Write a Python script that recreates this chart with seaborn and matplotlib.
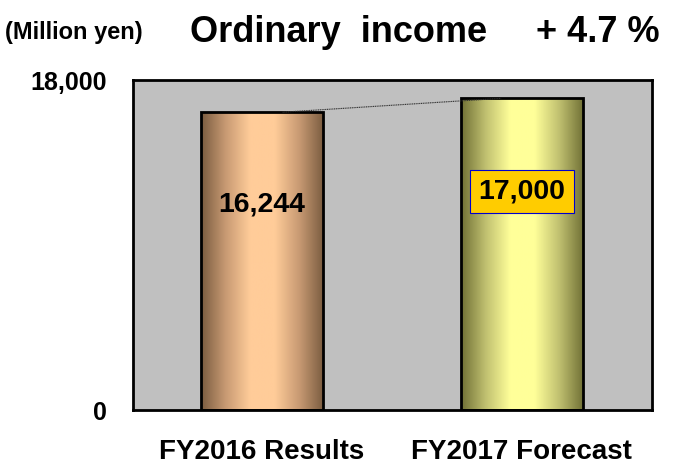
import matplotlib
matplotlib.use("Agg")
import matplotlib.pyplot as plt
import seaborn as sns
import numpy as np
from matplotlib.colors import LinearSegmentedColormap

# data
categories = ["FY2016 Results", "FY2017 Forecast"]
values = [16244, 17000]
value_labels = ["16,244", "17,000"]
growth = "+ 4.7 %"

sns.set_style("white")
plt.rcParams["font.family"] = ["Liberation Sans", "DejaVu Sans"]
plt.rcParams["font.weight"] = "bold"
plt.rcParams["text.color"] = "black"
plt.rcParams["xtick.labelcolor"] = "black"
plt.rcParams["ytick.labelcolor"] = "black"

fig = plt.figure(figsize=(6.74, 4.69), dpi=100)
ax = fig.add_axes([133 / 674, 1 - 410 / 469, 519 / 674, 330 / 469])
ax.set_facecolor("#c0c0c0")

sns.barplot(x=categories, y=values, width=0.47, color="#c0c0c0",
            edgecolor="black", linewidth=2, ax=ax, zorder=2)

ax.set_xlim(-0.495, 1.5)
ax.set_ylim(0, 18000)

# cylinder gradients
ramps = [["#7a5c40", "#c89a73", "#ffcc99", "#ffcc99", "#c89a73", "#7a5c40"],
         ["#707035", "#c0c070", "#ffff99", "#ffff99", "#c0c070", "#707035"]]
grad = np.linspace(0, 1, 256).reshape(1, -1)
for patch, ramp in zip(ax.patches, ramps):
    x0, y0 = patch.get_x(), patch.get_y()
    w, h = patch.get_width(), patch.get_height()
    cmap = LinearSegmentedColormap.from_list("c", ramp)
    im = ax.imshow(grad, cmap=cmap, aspect="auto", extent=[x0, x0 + w, y0, y0 + h],
                   zorder=2.5)
    im.set_clip_path(patch)
    patch.set_zorder(3)
    patch.set_facecolor("none")

# connecting line between bar tops
ax.plot([0.08, 0.92], values, color="#303030", lw=0.8, ls=(0, (1, 0.6)), zorder=4)

# value labels
ax.text(0, 11200, value_labels[0], ha="center", va="center", fontsize=20.5,
        fontweight="bold", zorder=5)
ax.text(1, 11900, value_labels[1], ha="center", va="center", fontsize=20.5,
        fontweight="bold", zorder=5,
        bbox=dict(boxstyle="square,pad=0.3", facecolor="#ffcc00", edgecolor="#0000cc", lw=0.8))

ax.set_yticks([0, 18000])
ax.set_yticklabels(["0", "18,000"], fontsize=18, fontweight="bold")
ax.tick_params(axis="y", length=0, pad=19)
ax.set_xticks([0.5], minor=True)
ax.tick_params(axis="x", which="minor", direction="in", length=8, width=1, color="#404040")
ax.tick_params(axis="x", which="major", length=0, pad=21)
for lab in ax.get_xticklabels():
    lab.set_fontsize(20)
    lab.set_fontweight("bold")
for s in ax.spines.values():
    s.set_color("black")
    s.set_linewidth(2)

fig.text(5 / 674, 1 - 33 / 469, "(Million yen)", fontsize=17, fontweight="bold", va="center")
fig.text(190 / 674, 1 - 32 / 469, "Ordinary  income", fontsize=26, fontweight="bold", va="center")
fig.text(660 / 674, 1 - 32 / 469, growth, fontsize=26, fontweight="bold", va="center", ha="right")

fig.savefig("out.png", dpi=100)
